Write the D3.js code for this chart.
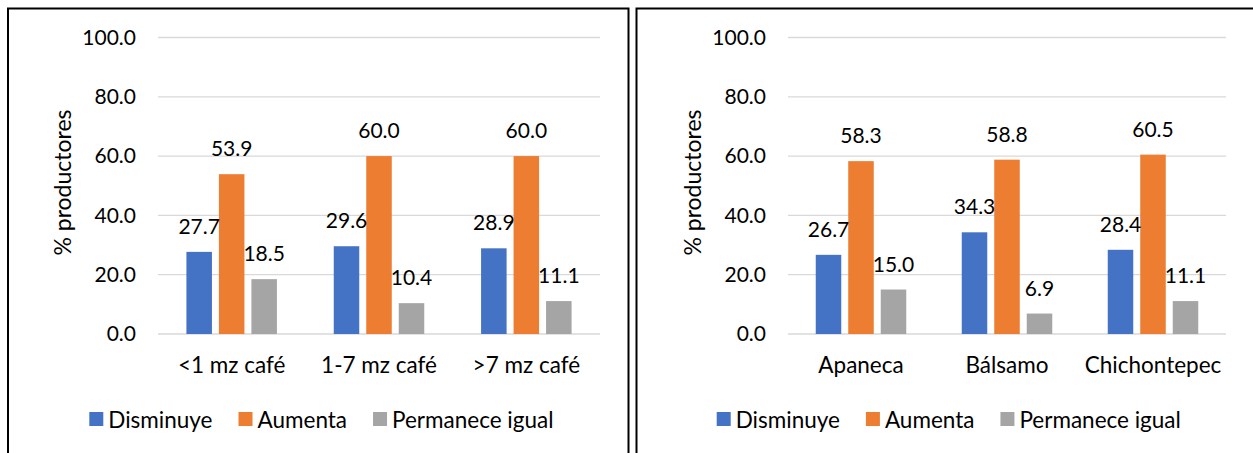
<!DOCTYPE html>
<html>
<head>
<meta charset="utf-8">
<script src="https://cdn.jsdelivr.net/npm/d3@7"></script>
<style>
  html, body { margin: 0; padding: 0; background: #fff; }
  svg { display: block; font-family: Lato, "Open Sans", sans-serif; }
</style>
</head>
<body>
<svg id="chart" width="1253" height="453"></svg>
<script>
// Series names shared by both panels
const seriesNames = ["Disminuye", "Aumenta", "Permanece igual"];
const seriesColors = ["#4472C4", "#ED7D31", "#A5A5A5"];

// Panel 1: by coffee farm size
const sizeCategories = ["<1 mz café", "1-7 mz café", ">7 mz café"];
const sizeDisminuye = [27.7, 29.6, 28.9];
const sizeAumenta = [53.9, 60.0, 60.0];
const sizePermanece = [18.5, 10.4, 11.1];

// Panel 2: by municipality
const muniCategories = ["Apaneca", "Bálsamo", "Chichontepec"];
const muniDisminuye = [26.7, 34.3, 28.4];
const muniAumenta = [58.3, 58.8, 60.5];
const muniPermanece = [15.0, 6.9, 11.1];

// Y axis ticks
const yTicks = [0, 20, 40, 60, 80, 100];
const yTitle = "% productores";

const svg = d3.select("#chart");

function drawPanel(opts) {
  const { categories, values, plotLeft, plotRight, titleX, legendX, frameLeft, frameRight } = opts;
  const g = svg.append("g");

  const plotTop = 37.5, plotBottom = 334;
  const y = d3.scaleLinear().domain([0, 100]).range([plotBottom, plotTop]);

  const x0 = d3.scaleBand().domain(categories).range([plotLeft, plotRight]).padding(0);
  const groupWidth = 90.5;
  const x1 = d3.scaleBand().domain(seriesNames).range([0, groupWidth]).paddingInner(0.215).paddingOuter(0);
  const color = d3.scaleOrdinal().domain(seriesNames).range(seriesColors);

  // Gridlines
  g.append("g").selectAll("line").data(yTicks).join("line")
    .attr("x1", plotLeft).attr("x2", plotRight)
    .attr("y1", d => y(d)).attr("y2", d => y(d))
    .attr("stroke", "#D9D9D9").attr("stroke-width", 1.3);

  // Y axis tick labels
  const yAxis = d3.axisLeft(y).tickValues(yTicks).tickFormat(d3.format(".1f")).tickSize(0).tickPadding(0);
  const ya = g.append("g").attr("transform", `translate(${plotLeft - 22},0)`).call(yAxis);
  ya.select(".domain").remove();
  ya.selectAll("text").attr("font-size", 21).attr("fill", "#000").attr("font-family", "Lato");

  // Y axis title
  g.append("text")
    .attr("transform", `translate(${titleX},182.5) rotate(-90)`)
    .attr("text-anchor", "middle").attr("dominant-baseline", "central")
    .attr("font-size", 23).attr("fill", "#000")
    .text(yTitle);

  // Bars and value labels
  const rows = categories.map((c, i) => ({ cat: c, vals: seriesNames.map((s, j) => ({ s, v: values[j][i] })) }));
  const groups = g.append("g").selectAll("g").data(rows).join("g")
    .attr("transform", d => `translate(${x0(d.cat) + (x0.bandwidth() - groupWidth) / 2},0)`);

  groups.selectAll("rect").data(d => d.vals).join("rect")
    .attr("x", d => x1(d.s)).attr("width", x1.bandwidth())
    .attr("y", d => y(d.v)).attr("height", d => y(0) - y(d.v))
    .attr("fill", d => color(d.s));

  groups.selectAll("text").data(d => d.vals).join("text")
    .attr("x", d => x1(d.s) + x1.bandwidth() / 2)
    .attr("y", d => y(d.v) - 18)
    .attr("text-anchor", "middle")
    .attr("font-size", 21).attr("fill", "#000")
    .text(d => d3.format(".1f")(d.v));

  // Category labels
  const xAxis = d3.axisBottom(x0).tickSize(0).tickPadding(0);
  const xa = g.append("g").attr("transform", `translate(0,${plotBottom + 39})`).call(xAxis);
  xa.select(".domain").remove();
  xa.selectAll("text").attr("font-size", 22.5).attr("fill", "#000").attr("font-family", "Lato").attr("dy", 0);

  // Legend
  const legend = g.append("g").attr("transform", `translate(${legendX},412)`);
  let cx = 0;
  seriesNames.forEach((s, i) => {
    const item = legend.append("g").attr("transform", `translate(${cx},0)`);
    item.append("rect").attr("width", 14).attr("height", 14).attr("fill", color(s));
    const t = item.append("text").attr("x", 19).attr("y", 16)
      .attr("font-size", 22.5).attr("fill", "#000").text(s);
    cx += 19 + t.node().getComputedTextLength() + 26;
  });

  // Panel frame (open at the bottom)
  const fr = [[frameLeft, 460], [frameLeft, 8.5], [frameRight, 8.5], [frameRight, 460]];
  g.append("path").attr("d", d3.line()(fr)).attr("fill", "none")
    .attr("stroke", "#000").attr("stroke-width", 2);
}

drawPanel({
  categories: sizeCategories,
  values: [sizeDisminuye, sizeAumenta, sizePermanece],
  plotLeft: 158, plotRight: 600, titleX: 62, legendX: 89.3,
  frameLeft: 8, frameRight: 628.5
});

drawPanel({
  categories: muniCategories,
  values: [muniDisminuye, muniAumenta, muniPermanece],
  plotLeft: 788, plotRight: 1226, titleX: 692, legendX: 716.7,
  frameLeft: 636.5, frameRight: 1270
});
</script>
</body>
</html>
